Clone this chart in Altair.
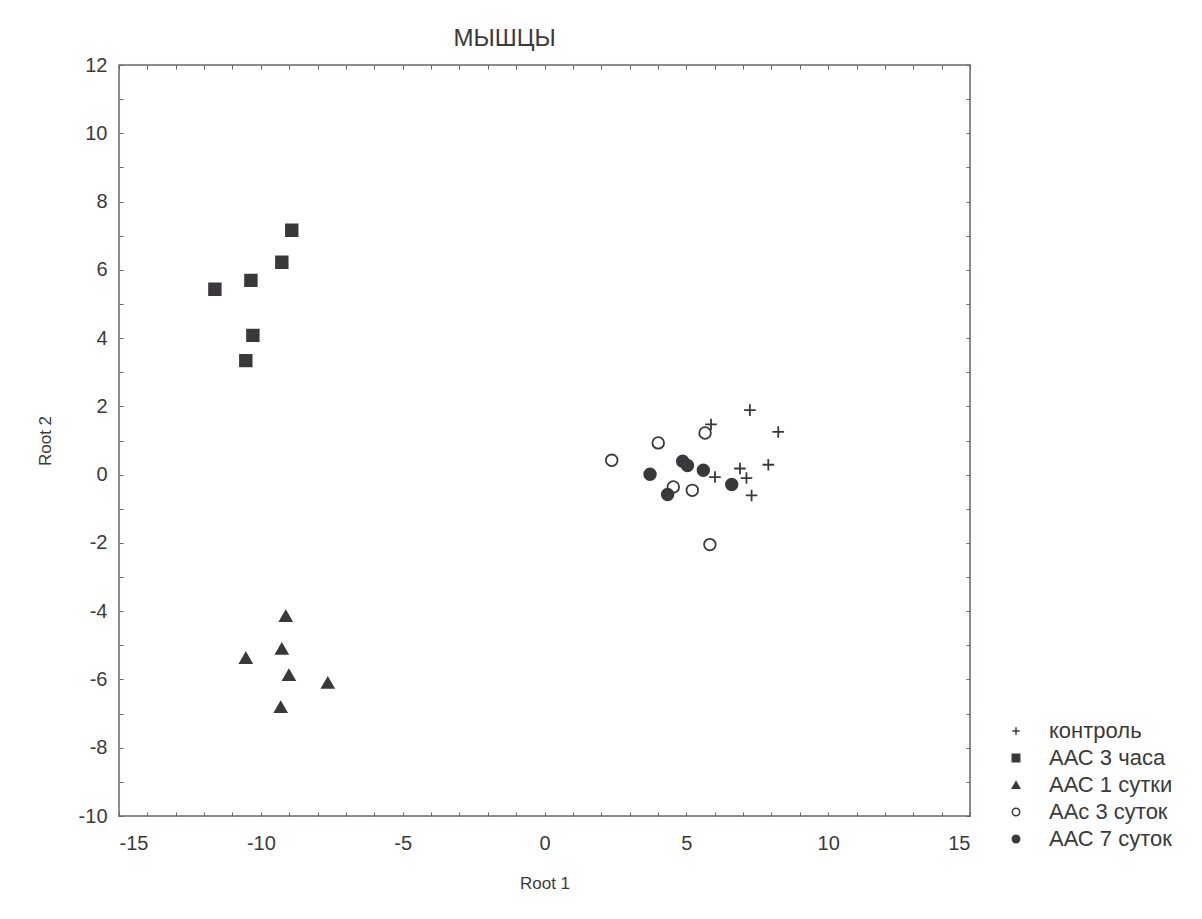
import altair as alt
import pandas as pd

# ---- data ----
groups = ["контроль", "ААС 3 часа", "ААС 1 сутки", "ААс 3 суток", "ААС 7 суток"]

ctrl_x = [7.24, 5.87, 8.24, 7.89, 6.89, 6.01, 7.12, 7.30]
ctrl_y = [1.89, 1.47, 1.25, 0.29, 0.18, -0.07, -0.10, -0.61]

h3_x = [-11.62, -10.35, -10.28, -10.53, -9.26, -8.91]
h3_y = [5.43, 5.69, 4.08, 3.34, 6.22, 7.16]

d1_x = [-9.12, -10.53, -9.26, -9.01, -7.64, -9.30]
d1_y = [-4.14, -5.37, -5.10, -5.87, -6.10, -6.81]

d3_x = [2.37, 4.01, 5.66, 4.54, 5.21, 5.83]
d3_y = [0.42, 0.93, 1.22, -0.36, -0.46, -2.05]

d7_x = [3.72, 4.87, 5.04, 5.60, 4.34, 6.60]
d7_y = [0.01, 0.39, 0.27, 0.13, -0.58, -0.29]

x_major = [-15, -10, -5, 0, 5, 10, 15]
y_major = [-10, -8, -6, -4, -2, 0, 2, 4, 6, 8, 10, 12]
x_minor = list(range(-15, 16))
y_minor = list(range(-10, 13))

rows = []
for g, xs, ys in zip(groups, [ctrl_x, h3_x, d1_x, d3_x, d7_x], [ctrl_y, h3_y, d1_y, d3_y, d7_y]):
    for a, b in zip(xs, ys):
        rows.append({"x": a, "y": b, "group": g})
df = pd.DataFrame(rows)

# ---- styling ----
W, H = 851, 751
DARK = "#3b383c"
FRAME = "#6f6269"
TEXT = "#3a3a3a"
FONT = "Liberation Sans"
PLUS = "M-1,0H1M0,-1V1"
MINUS_FIX = "replace(datum.label, '\u2212', '-')"

xs = alt.Scale(domain=[-15, 15], nice=False, zero=False)
ys = alt.Scale(domain=[-10, 12], nice=False, zero=False)

leg = dict(title=None, orient="none", legendX=886, legendY=655,
           labelFont=FONT, labelFontSize=22, labelColor=TEXT,
           symbolSize=55, symbolStrokeWidth=1.5,
           rowPadding=5, labelOffset=22)

points = alt.Chart(df).mark_point(
    filled=True, strokeWidth=1.8, opacity=1, size=135
).encode(
    x=alt.X("x:Q", scale=xs, axis=alt.Axis(
        orient="bottom", values=x_major, ticks=False, tickSize=0, domain=False,
        grid=False, labelPadding=17, labelFontSize=20, labelExpr=MINUS_FIX,
        title="Root 1", titleFontSize=17, titleFontWeight="normal", titlePadding=22)),
    y=alt.Y("y:Q", scale=ys, axis=alt.Axis(
        orient="left", values=y_major, ticks=False, tickSize=0, domain=False,
        grid=False, labelPadding=12, labelFontSize=20, labelExpr=MINUS_FIX,
        title="Root 2", titleFontSize=17, titleFontWeight="normal", titlePadding=24)),
    shape=alt.Shape("group:N", scale=alt.Scale(
        domain=groups, range=[PLUS, "square", "triangle-up", "circle", "circle"]),
        legend=alt.Legend(**leg)),
    fill=alt.Fill("group:N", scale=alt.Scale(
        domain=groups, range=["transparent", DARK, DARK, "white", DARK]),
        legend=alt.Legend(**leg)),
    stroke=alt.Stroke("group:N", scale=alt.Scale(
        domain=groups, range=[DARK, DARK, DARK, DARK, DARK]),
        legend=alt.Legend(**leg)),
)

tick_kw = dict(labels=False, domain=False, grid=False, title=None,
               ticks=True, tickSize=4, tickColor=FRAME, tickWidth=1)

ticks_a = alt.Chart(df).mark_point(opacity=0, size=0).encode(
    x=alt.X("x:Q", scale=xs, axis=alt.Axis(orient="top", offset=-H, values=x_minor, **tick_kw)),
    y=alt.Y("y:Q", scale=ys, axis=alt.Axis(orient="right", offset=-W, values=y_minor, **tick_kw)),
)
ticks_b = alt.Chart(df).mark_point(opacity=0, size=0).encode(
    x=alt.X("x:Q", scale=xs, axis=alt.Axis(orient="bottom", offset=-H, values=x_minor, **tick_kw)),
    y=alt.Y("y:Q", scale=ys, axis=alt.Axis(orient="left", offset=-W, values=y_minor, **tick_kw)),
)

chart = alt.layer(points, ticks_a, ticks_b).resolve_axis(
    x="independent", y="independent"
).properties(
    width=W, height=H,
    autosize=alt.AutoSizeParams(type="none"),
    padding={"left": 119, "top": 65, "right": 1202 - 119 - W, "bottom": 919 - 65 - H},
    title=alt.TitleParams("МЫШЦЫ", fontSize=24, fontWeight="normal", color=TEXT,
                          font=FONT, anchor="middle", dx=-40, dy=38, offset=23,
                          baseline="alphabetic"),
    background="white",
).configure_view(
    stroke=FRAME, strokeWidth=1.5
).configure_axis(
    labelFont=FONT, titleFont=FONT, labelColor=TEXT, titleColor=TEXT
)

chart.save("out.html", embed_options={"renderer": "svg", "actions": False})
